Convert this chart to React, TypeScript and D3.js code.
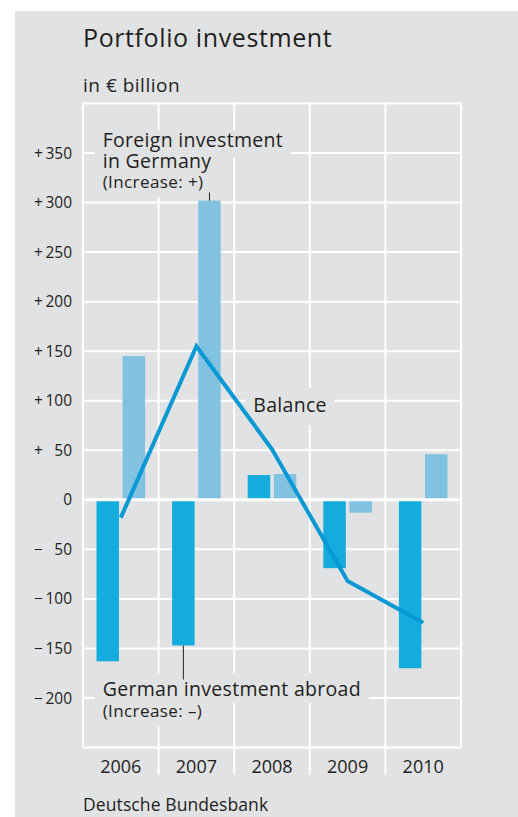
import React, { useEffect, useRef } from "react";
import * as d3 from "d3";

const years = ["2006", "2007", "2008", "2009", "2010"];
const germanInvestmentAbroad = [-163, -147, 25, -69, -170];
const foreignInvestmentInGermany = [145, 302, 26, -13, 46];
const balance = [-18, 155, 51, -82, -124];
const yTicks = [350, 300, 250, 200, 150, 100, 50, 0, -50, -100, -150, -200];
const yDomain = [-250, 400];

const W = 518;
const H = 817;
const FONT = "'Open Sans', 'Noto Sans', sans-serif";
const TEXT = "#231f20";
const BG = "#e1e2e4";
const DARK = "#14acdc";
const LIGHT = "#80c2e0";
const LINE = "#0898d3";

export default function App() {
  const ref = useRef<SVGSVGElement>(null);

  useEffect(() => {
    const svg = d3.select(ref.current);
    svg.selectAll("*").remove();

    const x = d3.scaleBand<string>().domain(years).range([83, 461]);
    const y = d3.scaleLinear().domain(yDomain).range([747.5, 103.5]);
    const top = y(yDomain[1]);
    const bottom = y(yDomain[0]);
    const left = x.range()[0];
    const right = x.range()[1];
    const bw = x.bandwidth();
    const barW = 22.5;
    const gap = 1.8;

    svg.append("rect").attr("x", 15).attr("y", 11).attr("width", W - 15).attr("height", H - 11).attr("fill", BG);

    const gGrid = svg.append("g");
    const gBoxes = svg.append("g");
    const gBars = svg.append("g");
    const gZero = svg.append("g");
    const gLine = svg.append("g");
    const gText = svg.append("g").attr("font-family", FONT).attr("fill", TEXT);

    // horizontal gridlines + frame
    const hLines = [...yTicks.filter((t) => t !== 0), yDomain[0], yDomain[1]];
    gGrid.selectAll("line.h").data(hLines).join("line")
      .attr("x1", left).attr("x2", right)
      .attr("y1", (d) => y(d)).attr("y2", (d) => y(d))
      .attr("stroke", "#fff").attr("stroke-width", 2);
    // vertical separators
    const edges = [...years.map((yr) => x(yr)!), right];
    gGrid.selectAll("line.v").data(edges).join("line")
      .attr("x1", (d) => d).attr("x2", (d) => d)
      .attr("y1", top - 1)
      .attr("y2", (d, i) => (i === 0 || i === edges.length - 1 ? bottom + 1 : 775))
      .attr("stroke", "#fff").attr("stroke-width", 2);

    // bars
    gBars.selectAll("rect.dark").data(years).join("rect")
      .attr("x", (d) => x(d)! + bw / 2 - gap - barW)
      .attr("width", barW)
      .attr("y", (d, i) => y(Math.max(0, germanInvestmentAbroad[i])))
      .attr("height", (d, i) => Math.abs(y(germanInvestmentAbroad[i]) - y(0)))
      .attr("fill", DARK);
    gBars.selectAll("rect.light").data(years).join("rect")
      .attr("x", (d) => x(d)! + bw / 2 + gap)
      .attr("width", barW)
      .attr("y", (d, i) => y(Math.max(0, foreignInvestmentInGermany[i])))
      .attr("height", (d, i) => Math.abs(y(foreignInvestmentInGermany[i]) - y(0)))
      .attr("fill", LIGHT);

    // zero line
    gZero.append("line").attr("x1", left).attr("x2", right).attr("y1", y(0)).attr("y2", y(0))
      .attr("stroke", "#fff").attr("stroke-width", 3);

    // balance line
    const lineGen = d3.line<number>().x((d, i) => x(years[i])! + bw / 2).y((d) => y(d));
    gLine.append("path").attr("d", lineGen(balance)).attr("fill", "none")
      .attr("stroke", LINE).attr("stroke-width", 4).attr("stroke-linejoin", "miter");

    // leader lines
    const i07 = years.indexOf("2007");
    const lightCx = x("2007")! + bw / 2 + gap + barW / 2;
    const darkCx = x("2007")! + bw / 2 - gap - barW / 2;
    gLine.append("line").attr("x1", lightCx).attr("x2", lightCx)
      .attr("y1", 192.5).attr("y2", y(foreignInvestmentInGermany[i07]))
      .attr("stroke", TEXT).attr("stroke-width", 1);
    gLine.append("line").attr("x1", darkCx).attr("x2", darkCx)
      .attr("y1", y(germanInvestmentAbroad[i07])).attr("y2", 679.5)
      .attr("stroke", TEXT).attr("stroke-width", 1);

    // title
    gText.append("text").attr("x", 83).attr("y", 46.7).attr("font-size", 25)
      .attr("letter-spacing", 0.6).text("Portfolio investment");
    gText.append("text").attr("x", 83).attr("y", 91.7).attr("font-size", 19)
      .attr("letter-spacing", 0.5).text("in € billion");

    // y tick labels
    yTicks.forEach((t) => {
      const yy = y(t) + 5.6;
      if (t !== 0) {
        gText.append("text").attr("x", 34).attr("y", yy).attr("font-size", 15.5).text(t > 0 ? "+" : "−");
      }
      gText.append("text").attr("x", 72).attr("y", yy).attr("font-size", 15.5)
        .attr("text-anchor", "end").text(String(Math.abs(t)));
    });

    // year labels
    years.forEach((yr) => {
      gText.append("text").attr("x", x(yr)! + bw / 2).attr("y", 773.3).attr("font-size", 18)
        .attr("text-anchor", "middle").text(yr);
    });

    // source
    gText.append("text").attr("x", 83).attr("y", 810.7).attr("font-size", 17.5)
      .attr("letter-spacing", 0.1).text("Deutsche Bundesbank");

    // labels with boxes
    const addLabel = (
      lines: { t: string; y: number; size: number; ls: number }[],
      tx: number,
      boxes: { from: number; to: number; y0: number; y1: number }[]
    ) => {
      const widths: number[] = [];
      lines.forEach((l) => {
        const node = gText.append("text").attr("x", tx).attr("y", l.y).attr("font-size", l.size)
          .attr("letter-spacing", l.ls).text(l.t);
        widths.push((node.node() as SVGTextElement).getComputedTextLength());
      });
      boxes.forEach((b) => {
        const w = Math.max(...widths.slice(b.from, b.to + 1));
        gBoxes.append("rect").attr("x", tx - 8).attr("y", b.y0)
          .attr("width", w + 16).attr("height", b.y1 - b.y0).attr("fill", BG);
      });
    };

    addLabel(
      [
        { t: "Foreign investment", y: 146.7, size: 19.5, ls: 0.3 },
        { t: "in Germany", y: 168.3, size: 19.5, ls: 0.3 },
        { t: "(Increase: +)", y: 188.3, size: 17, ls: 0.4 },
      ],
      102.7,
      [
        { from: 0, to: 0, y0: 130, y1: 158 },
        { from: 1, to: 2, y0: 158, y1: 197 },
      ]
    );
    addLabel(
      [
        { t: "German investment abroad", y: 696, size: 19.5, ls: 0.3 },
        { t: "(Increase: –)", y: 716.5, size: 17, ls: 0.4 },
      ],
      102.7,
      [
        { from: 0, to: 0, y0: 673, y1: 703 },
        { from: 1, to: 1, y0: 703, y1: 727 },
      ]
    );
    addLabel([{ t: "Balance", y: 411.7, size: 19.5, ls: 0.3 }], 253.3, [{ from: 0, to: 0, y0: 388, y1: 425 }]);
  }, []);

  return <svg ref={ref} width={W} height={H} style={{ position: "absolute", left: 0, top: 0 }} />;
}
